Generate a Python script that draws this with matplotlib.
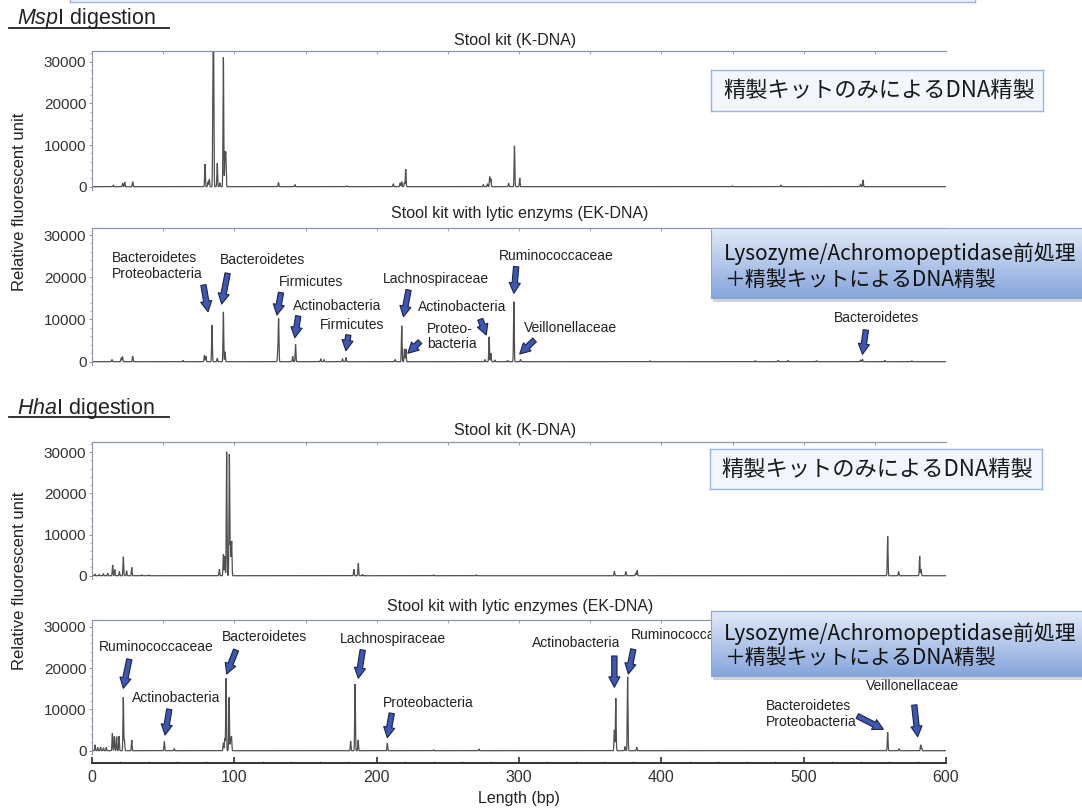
import numpy as np
import matplotlib
matplotlib.use('Agg')
import matplotlib.pyplot as plt
from matplotlib.lines import Line2D
from matplotlib.ticker import MultipleLocator
from matplotlib.colors import to_rgb

plt.rcParams['font.family'] = ['Liberation Sans', 'Noto Sans CJK JP', 'DejaVu Sans']
plt.rcParams['mathtext.fontset'] = 'custom'
plt.rcParams['mathtext.it'] = 'Liberation Sans:italic'
plt.rcParams['mathtext.rm'] = 'Liberation Sans'

W, H = 1082, 810

# ---------------- data: peak positions (bp) and heights (RFU) ----------------
msp_k_pos = [15.0, 21.5, 23.0, 28.6, 79.4, 81.5, 82.4, 85.0, 85.4, 88.0, 89.9, 92.3, 93.4, 94.0,
             131.0, 142.6, 179.0, 211.7, 216.5, 217.6, 219.5, 220.4, 275.0, 277.8, 279.4, 280.2,
             292.7, 296.8, 300.5, 450.0, 484.0, 540.0, 541.7]
msp_k_height = [400, 800, 1100, 1200, 5400, 1200, 1800, 22000, 31000, 5600, 900, 31000, 8000, 7800,
                1000, 500, 200, 700, 900, 1200, 1000, 4200, 500, 700, 2400, 1900,
                800, 9800, 2100, 200, 400, 600, 1600]

msp_ek_pos = [14.0, 20.5, 21.4, 28.6, 64.0, 79.0, 80.0, 84.3, 88.0, 92.3, 93.5,
              130.5, 131.1, 141.0, 143.0, 160.7, 163.0, 176.0, 178.4,
              213.0, 217.6, 219.5, 220.5, 276.0, 279.0, 280.2, 283.0, 292.0, 296.4, 301.0,
              392.0, 466.0, 482.0, 489.0, 509.0, 540.0, 541.3, 557.0, 576.0]
msp_ek_height = [500, 900, 1200, 1300, 300, 1500, 1300, 8700, 800, 11800, 2300,
                 2400, 10100, 1300, 4100, 700, 500, 700, 1000,
                 500, 8500, 3000, 3000, 500, 5900, 2000, 400, 300, 14200, 500,
                 200, 250, 300, 300, 250, 400, 600, 300, 200]

hha_k_pos = [2.0, 5.0, 8.0, 11.0, 14.5, 16.0, 19.2, 22.0, 24.3, 27.9, 35.0, 40.0,
             89.5, 92.3, 93.3, 94.6, 96.5, 97.3, 98.1,
             184.0, 187.1, 190.0, 240.0, 270.0,
             367.0, 375.0, 382.0, 383.0, 559.0, 566.7, 581.5, 582.5]
hha_k_height = [400, 300, 500, 600, 2600, 1500, 1000, 4600, 1200, 2000, 200, 200,
                1550, 5200, 4800, 30100, 29500, 8000, 8400,
                1550, 3000, 300, 200, 200,
                1100, 1000, 600, 1300, 9600, 1000, 4800, 1500]

hha_ek_pos = [2.1, 4.0, 6.0, 8.0, 10.0, 14.3, 15.7, 17.3, 19.0, 22.0, 22.8, 27.9, 50.8, 57.8,
              92.3, 93.3, 94.2, 96.3, 97.3, 98.0,
              181.7, 184.8, 187.0, 207.5, 240.0, 272.0,
              367.0, 368.0, 374.5, 376.3, 382.7, 559.0, 567.0, 582.2, 583.0]
hha_ek_height = [1400, 800, 900, 700, 800, 4200, 3500, 3400, 3500, 12900, 2500, 2600, 2200, 500,
                 1900, 3000, 17500, 12900, 3000, 3400,
                 2300, 16100, 2600, 1800, 200, 400,
                 5000, 12700, 1000, 17900, 800, 4450, 500, 1400, 600]

y_ticks = [0, 10000, 20000, 30000]
y_tick_labels = ['0', '10000', '20000', '30000']
x_ticks = [0, 100, 200, 300, 400, 500, 600]
x_tick_labels = ['0', '100', '200', '300', '400', '500', '600']

# annotations: (label, text x, text y, ha, tail x, tail y, head x, head y)
msp_ek_notes = [
    ('Bacteroidetes\nProteobacteria', 14.0, 22700, 'left', 78.3, 18160, 81.5, 11840),
    ('Bacteroidetes', 89.9, 24080, 'left', 95.3, 20930, 91.1, 13660),
    ('Firmicutes', 131.6, 18940, 'left', 132.8, 16340, 129.9, 11060),
    ('Actinobacteria', 141.3, 13190, 'left', 144.9, 10820, 142.5, 5680),
    ('Firmicutes', 160.2, 8690, 'left', 180.1, 6320, 178.4, 2600),
    ('Lachnospiraceae', 204.3, 19580, 'left', 222.4, 16980, 218.8, 10660),
    ('Proteo-\nbacteria', 235.3, 6000, 'left', 230.4, 4740, 221.9, 1990),
    ('Actinobacteria', 229.3, 13020, 'left', 272.8, 10040, 277.0, 6320),
    ('Ruminococcaceae', 286.0, 25030, 'left', 298.0, 22500, 296.4, 16200),
    ('Veillonellaceae', 303.5, 7910, 'left', 310.9, 5140, 300.5, 1820),
    ('Bacteroidetes', 551.5, 10280, 'center', 543.7, 7510, 541.3, 1750),
]
hha_ek_notes = [
    ('Ruminococcaceae', 4.9, 25180, 'left', 26.2, 22130, 22.0, 15110),
    ('Actinobacteria', 27.9, 12690, 'left', 54.3, 10020, 51.3, 3800),
    ('Bacteroidetes', 91.1, 27600, 'left', 101.2, 24380, 94.6, 18570),
    ('Lachnospiraceae', 173.8, 26970, 'left', 190.2, 24380, 187.1, 17530),
    ('Proteobacteria', 204.7, 11620, 'left', 210.6, 9050, 207.5, 3150),
    ('Actinobacteria', 371.5, 26150, 'right', 367.0, 22930, 367.0, 15350),
    ('Ruminococcaceae', 378.5, 28010, 'left', 380.3, 24550, 376.8, 18570),
    ('Bacteroidetes\nProteobacteria', 473.3, 8920, 'left', 537.7, 8400, 556.0, 5180),
    ('Veillonellaceae', 543.8, 15660, 'left', 577.7, 11060, 580.1, 3390),
]

# ---------------- helpers ----------------
def frect(l, t, r, b):
    return [l / W, 1 - b / H, (r - l) / W, (b - t) / H]

def fx(px):
    return px / W

def fy(py):
    return 1 - py / H

SPINE = '#8a92a8'
TRACE = '#505050'
TXT = '#222222'

xs = np.linspace(0, 600, 24001)

def trace(pos, hts, sigma=0.25):
    y = np.zeros_like(xs)
    for p, h in zip(pos, hts):
        y += h * np.exp(-0.5 * ((xs - p) / sigma) ** 2)
    return y

fig = plt.figure(figsize=(W / 100, H / 100), dpi=100)
fig.patch.set_facecolor('white')

panels = [
    (51.0, 189.6, (-700, 32570), msp_k_pos, msp_k_height, None),
    (227.7, 364.66, (-700, 31730), msp_ek_pos, msp_ek_height, msp_ek_notes),
    (441.7, 578.6, (-700, 32560), hha_k_pos, hha_k_height, None),
    (620.0, 753.6, (-700, 31640), hha_ek_pos, hha_ek_height, hha_ek_notes),
]

axes = []
for i, (top, bot, ylim, pos, hts, notes) in enumerate(panels):
    ax = fig.add_axes(frect(92, top, 946, bot))
    ax.set_facecolor('none')
    ax.plot(xs, trace(pos, hts), color=TRACE, lw=0.9, solid_joinstyle='miter')
    ax.set_xlim(0, 600)
    ax.set_ylim(*ylim)
    ax.spines['right'].set_visible(False)
    for s in ('top', 'left'):
        ax.spines[s].set_color(SPINE)
        ax.spines[s].set_linewidth(0.8)
    ax.set_yticks(y_ticks)
    ax.set_yticklabels(y_tick_labels)
    ax.yaxis.set_minor_locator(MultipleLocator(2000))
    ax.tick_params(axis='y', which='major', direction='out', length=2.5, width=0.7,
                   color=SPINE, labelsize=11, pad=1.5, labelcolor='#333333')
    ax.tick_params(axis='y', which='minor', direction='out', length=1.2, width=0.5, color=SPINE)
    sec = ax.secondary_xaxis('top')
    sec.set_xticks(np.arange(50, 600, 50))
    sec.tick_params(direction='in', length=2, width=0.6, color=SPINE, labeltop=False)
    sec.spines['top'].set_color(SPINE)
    sec.spines['top'].set_linewidth(0.8)
    if i < 3:
        ax.spines['bottom'].set_visible(False)
        ax.tick_params(axis='x', bottom=False, labelbottom=False, top=False)
    else:
        ax.spines['bottom'].set_position(('outward', 7))
        ax.spines['bottom'].set_color('#333333')
        ax.spines['bottom'].set_linewidth(1.4)
        ax.set_xticks(x_ticks)
        ax.set_xticklabels(x_tick_labels)
        ax.xaxis.set_minor_locator(MultipleLocator(20))
        ax.tick_params(axis='x', which='major', direction='in', length=4.5, width=1.2,
                       color='#333333', labelsize=11.5, pad=5, labelcolor='#333333', top=False)
        ax.tick_params(axis='x', which='minor', direction='in', length=1.5, width=0.6,
                       color='#555555', top=False)
    if notes:
        for (lab, tx, ty, ha, ax0, ay0, ax1, ay1) in notes:
            ax.text(tx, ty, lab, fontsize=10, ha=ha, va='center', color=TXT,
                    linespacing=1.15, zorder=5)
            ax.annotate('', xy=(ax1, ay1), xytext=(ax0, ay0),
                        arrowprops=dict(arrowstyle='simple,head_length=0.75,head_width=0.8,tail_width=0.38',
                                        fc='#3d57b2', ec='#1b2350', lw=0.8,
                                        shrinkA=0, shrinkB=0, mutation_scale=10),
                        annotation_clip=False, zorder=6)
    axes.append(ax)

# panel titles
fig.text(fx(515), fy(40), 'Stool kit (K-DNA)', ha='center', va='center', fontsize=11.5, color=TXT)
fig.text(fx(520), fy(213.3), 'Stool kit with lytic enzyms (EK-DNA)', ha='center', va='center',
         fontsize=11.5, color=TXT)
fig.text(fx(515), fy(430), 'Stool kit (K-DNA)', ha='center', va='center', fontsize=11.5, color=TXT)
fig.text(fx(520), fy(606), 'Stool kit with lytic enzymes (EK-DNA)', ha='center', va='center',
         fontsize=11.5, color=TXT)

# y labels
fig.text(fx(19.5), fy(201.5), 'Relative fluorescent unit', rotation=90, ha='center', va='center',
         fontsize=12, color=TXT)
fig.text(fx(19.5), fy(581), 'Relative fluorescent unit', rotation=90, ha='center', va='center',
         fontsize=12, color=TXT)
fig.text(fx(519), fy(799), 'Length (bp)', ha='center', va='center', fontsize=11.5, color=TXT)

# section headings
fig.text(fx(17.2), fy(18.3), r'$\mathit{Msp}$I digestion', ha='left', va='center', fontsize=15.5, color=TXT)
fig.add_artist(Line2D([fx(8.6), fx(169)], [fy(28.3), fy(28.3)], color=TXT, lw=1.3))
fig.text(fx(17.2), fy(408.3), r'$\mathit{Hha}$I digestion', ha='left', va='center', fontsize=15.5, color=TXT)
fig.add_artist(Line2D([fx(8.6), fx(169)], [fy(417.3), fy(417.3)], color=TXT, lw=1.3))

# ---------------- callout boxes ----------------
CJK = ['Noto Sans CJK JP', 'DejaVu Sans']

def plain_box(l, t, r, b, text, size):
    bx = fig.add_axes(frect(l, t, r, b))
    bx.set_facecolor('#f3f6fc')
    bx.set_xticks([]); bx.set_yticks([])
    for s in bx.spines.values():
        s.set_color('#9ab5e2'); s.set_linewidth(1.0)
    bx.text(0.035, 0.5, text, transform=bx.transAxes, ha='left', va='center',
            fontsize=size, family=CJK, color='#1a1a1a')

def grad_box(l, t, r, b, lines, size, line_y):
    sh = fig.add_axes(frect(l + 2, t + 4, r + 2, b + 4))
    sh.set_facecolor('#9a9ea8'); sh.patch.set_alpha(0.45)
    sh.set_xticks([]); sh.set_yticks([])
    for s in sh.spines.values():
        s.set_visible(False)
    bx = fig.add_axes(frect(l, t, r, b))
    c0 = np.array(to_rgb('#e2eaf7'))
    c1 = np.array(to_rgb('#86a5dc'))
    g = np.linspace(0, 1, 64)[:, None]
    img = (c0[None, None, :] * (1 - g[..., None]) + c1[None, None, :] * g[..., None])
    img = np.repeat(img, 2, axis=1)
    bx.imshow(img, aspect='auto', extent=[0, 1, 0, 1], origin='upper')
    bx.set_xlim(0, 1); bx.set_ylim(0, 1)
    bx.set_xticks([]); bx.set_yticks([])
    for s in bx.spines.values():
        s.set_color('#8aa6d8'); s.set_linewidth(0.8)
    for txt, yy in zip(lines, line_y):
        bx.text(13 / (r - l), 1 - (yy - t) / (b - t), txt, transform=bx.transAxes,
                ha='left', va='center', fontsize=size, family=CJK, color='#111111')

# partially visible box at very top
top_box = fig.add_axes(frect(70, -12, 975, 1.5))
top_box.set_facecolor('#e9eff9')
top_box.set_xticks([]); top_box.set_yticks([])
for s in top_box.spines.values():
    s.set_color('#9ab5e2'); s.set_linewidth(1.0)

plain_box(711.4, 70, 1043.4, 111, '精製キットのみによるDNA精製', 16)
plain_box(710, 449.3, 1042.4, 489.3, '精製キットのみによるDNA精製', 16)
grad_box(710.7, 228.3, 1095, 298.3,
         ['Lysozyme/Achromopeptidase前処理', '＋精製キットによるDNA精製'], 15, [253.3, 280])
grad_box(710.7, 611, 1095, 676,
         ['Lysozyme/Achromopeptidase前処理', '＋精製キットによるDNA精製'], 15, [634, 658.3])

fig.savefig('out.png', dpi=100, facecolor='white')
